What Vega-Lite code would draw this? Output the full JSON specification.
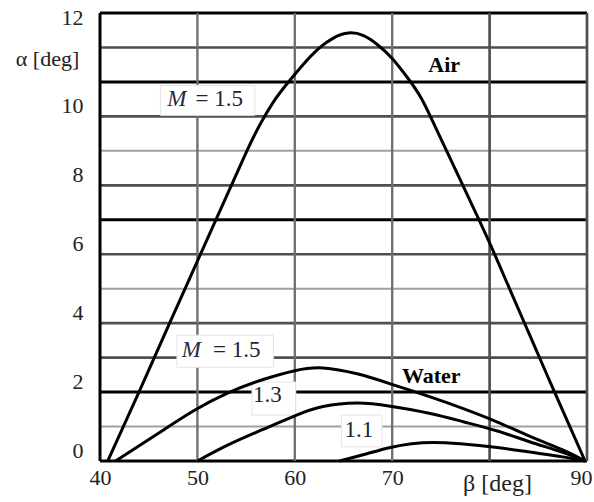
{
  "$schema": "https://vega.github.io/schema/vega-lite/v6.json",
  "width": 487,
  "height": 448,
  "autosize": {"type": "none"},
  "padding": {"left": 100, "top": 13, "right": 7, "bottom": 41},
  "background": "white",
  "config": {"view": {"stroke": null}, "font": "Liberation Serif"},
  "datasets": {
    "hlines": [
      {"alpha": 0, "kind": "black"}, {"alpha": 1, "kind": "light"}, {"alpha": 2, "kind": "black"},
      {"alpha": 3, "kind": "dark"}, {"alpha": 4, "kind": "dark"}, {"alpha": 5, "kind": "light"},
      {"alpha": 6, "kind": "dark"}, {"alpha": 7, "kind": "black"}, {"alpha": 8, "kind": "dark"},
      {"alpha": 9, "kind": "light"}, {"alpha": 10, "kind": "dark"}, {"alpha": 11, "kind": "black"},
      {"alpha": 12, "kind": "dark"}, {"alpha": 13, "kind": "black"}
    ],
    "vlines": [
      {"beta": 40, "kind": "black"}, {"beta": 50, "kind": "mid"}, {"beta": 60, "kind": "mid"},
      {"beta": 70, "kind": "mid"}, {"beta": 80, "kind": "dark"}, {"beta": 90, "kind": "dark"}
    ],
    "boxes": [
      {"b1": 46.2, "b2": 55.9, "a1": 10.03, "a2": 10.9},
      {"b1": 47.9, "b2": 57.8, "a1": 2.72, "a2": 3.65},
      {"b1": 55.6, "b2": 60.1, "a1": 1.33, "a2": 2.29},
      {"b1": 64.8, "b2": 68.95, "a1": 0.41, "a2": 1.33}
    ],
    "curves": [
      {"curve": "Air M=1.5", "beta": 40.8, "alpha": 0},
      {"curve": "Air M=1.5", "beta": 44.0, "alpha": 2.0},
      {"curve": "Air M=1.5", "beta": 48.0, "alpha": 4.54},
      {"curve": "Air M=1.5", "beta": 52.0, "alpha": 7.06},
      {"curve": "Air M=1.5", "beta": 55.0, "alpha": 8.95},
      {"curve": "Air M=1.5", "beta": 56.5, "alpha": 9.8},
      {"curve": "Air M=1.5", "beta": 58.0, "alpha": 10.5},
      {"curve": "Air M=1.5", "beta": 59.5, "alpha": 11.05},
      {"curve": "Air M=1.5", "beta": 61.0, "alpha": 11.55},
      {"curve": "Air M=1.5", "beta": 62.5, "alpha": 11.98},
      {"curve": "Air M=1.5", "beta": 64.0, "alpha": 12.28},
      {"curve": "Air M=1.5", "beta": 65.5, "alpha": 12.42},
      {"curve": "Air M=1.5", "beta": 67.0, "alpha": 12.35},
      {"curve": "Air M=1.5", "beta": 68.5, "alpha": 12.08},
      {"curve": "Air M=1.5", "beta": 70.0, "alpha": 11.68},
      {"curve": "Air M=1.5", "beta": 71.5, "alpha": 11.15},
      {"curve": "Air M=1.5", "beta": 73.0, "alpha": 10.52},
      {"curve": "Air M=1.5", "beta": 74.5, "alpha": 9.65},
      {"curve": "Air M=1.5", "beta": 76.0, "alpha": 8.75},
      {"curve": "Air M=1.5", "beta": 78.0, "alpha": 7.55},
      {"curve": "Air M=1.5", "beta": 80.0, "alpha": 6.33},
      {"curve": "Air M=1.5", "beta": 82.0, "alpha": 5.03},
      {"curve": "Air M=1.5", "beta": 84.0, "alpha": 3.73},
      {"curve": "Air M=1.5", "beta": 86.0, "alpha": 2.43},
      {"curve": "Air M=1.5", "beta": 88.0, "alpha": 1.15},
      {"curve": "Air M=1.5", "beta": 89.8, "alpha": 0},
      {"curve": "Water M=1.5", "beta": 41.6, "alpha": 0},
      {"curve": "Water M=1.5", "beta": 46.4, "alpha": 0.88},
      {"curve": "Water M=1.5", "beta": 49.75, "alpha": 1.48},
      {"curve": "Water M=1.5", "beta": 53.1, "alpha": 1.97},
      {"curve": "Water M=1.5", "beta": 56.6, "alpha": 2.35},
      {"curve": "Water M=1.5", "beta": 60.0, "alpha": 2.62},
      {"curve": "Water M=1.5", "beta": 62.9, "alpha": 2.7},
      {"curve": "Water M=1.5", "beta": 66.4, "alpha": 2.53},
      {"curve": "Water M=1.5", "beta": 69.8, "alpha": 2.24},
      {"curve": "Water M=1.5", "beta": 73.9, "alpha": 1.86},
      {"curve": "Water M=1.5", "beta": 77.3, "alpha": 1.52},
      {"curve": "Water M=1.5", "beta": 80.8, "alpha": 1.13},
      {"curve": "Water M=1.5", "beta": 84.1, "alpha": 0.72},
      {"curve": "Water M=1.5", "beta": 87.5, "alpha": 0.32},
      {"curve": "Water M=1.5", "beta": 89.8, "alpha": 0},
      {"curve": "Water M=1.3", "beta": 50.0, "alpha": 0},
      {"curve": "Water M=1.3", "beta": 53.1, "alpha": 0.46},
      {"curve": "Water M=1.3", "beta": 56.6, "alpha": 0.9},
      {"curve": "Water M=1.3", "beta": 60.0, "alpha": 1.31},
      {"curve": "Water M=1.3", "beta": 62.9, "alpha": 1.58},
      {"curve": "Water M=1.3", "beta": 66.4, "alpha": 1.68},
      {"curve": "Water M=1.3", "beta": 69.8, "alpha": 1.59},
      {"curve": "Water M=1.3", "beta": 73.9, "alpha": 1.38},
      {"curve": "Water M=1.3", "beta": 77.3, "alpha": 1.14},
      {"curve": "Water M=1.3", "beta": 80.8, "alpha": 0.87},
      {"curve": "Water M=1.3", "beta": 84.1, "alpha": 0.56},
      {"curve": "Water M=1.3", "beta": 87.5, "alpha": 0.25},
      {"curve": "Water M=1.3", "beta": 89.8, "alpha": 0},
      {"curve": "Water M=1.1", "beta": 64.6, "alpha": 0},
      {"curve": "Water M=1.1", "beta": 67.4, "alpha": 0.21},
      {"curve": "Water M=1.1", "beta": 69.8, "alpha": 0.39},
      {"curve": "Water M=1.1", "beta": 72.0, "alpha": 0.5},
      {"curve": "Water M=1.1", "beta": 74.2, "alpha": 0.54},
      {"curve": "Water M=1.1", "beta": 77.0, "alpha": 0.5},
      {"curve": "Water M=1.1", "beta": 80.8, "alpha": 0.39},
      {"curve": "Water M=1.1", "beta": 84.1, "alpha": 0.26},
      {"curve": "Water M=1.1", "beta": 87.5, "alpha": 0.12},
      {"curve": "Water M=1.1", "beta": 89.8, "alpha": 0}
    ],
    "italicLabels": [
      {"beta": 46.9, "alpha": 10.29, "text": "M"},
      {"beta": 48.4, "alpha": 3.01, "text": "M"}
    ],
    "plainLabels": [
      {"beta": 49.8, "alpha": 10.29, "text": "= 1.5"},
      {"beta": 51.6, "alpha": 3.01, "text": "= 1.5"},
      {"beta": 55.7, "alpha": 1.71, "text": "1.3"},
      {"beta": 65.1, "alpha": 0.7, "text": "1.1"}
    ],
    "boldLabels": [
      {"beta": 73.7, "alpha": 11.28, "text": "Air"},
      {"beta": 71.0, "alpha": 2.26, "text": "Water"}
    ]
  },
  "layer": [
    {
      "data": {"name": "hlines"},
      "mark": {"type": "rule"},
      "encoding": {
        "y": {
          "field": "alpha", "type": "quantitative",
          "scale": {"domain": [0, 13], "nice": false, "zero": false},
          "axis": {
            "values": [0, 2, 4, 6, 8, 10, 12],
            "grid": false, "domain": false, "ticks": false, "tickSize": 0,
            "labelFont": "Liberation Serif", "labelFontSize": 22, "labelColor": "#222222",
            "labelPadding": 17,
            "labelOffset": {"condition": {"test": "datum.value == 12", "value": -30}, "value": -11},
            "title": "α [deg]", "titleAngle": 0, "titleX": -53, "titleY": 45,
            "titleAlign": "center", "titleBaseline": "middle",
            "titleFont": "Liberation Serif", "titleFontSize": 22, "titleFontWeight": "normal", "titleColor": "#222222"
          }
        },
        "color": {
          "field": "kind", "type": "nominal", "legend": null,
          "scale": {"domain": ["black", "dark", "mid", "light"], "range": ["#000000", "#4f4f4f", "#6e6e6e", "#a0a0a0"]}
        },
        "strokeWidth": {
          "field": "kind", "type": "nominal", "legend": null,
          "scale": {"domain": ["black", "dark", "mid", "light"], "range": [3, 2, 2, 3]}
        }
      }
    },
    {
      "data": {"name": "vlines"},
      "mark": {"type": "rule"},
      "encoding": {
        "x": {
          "field": "beta", "type": "quantitative",
          "scale": {"domain": [40, 90], "nice": false, "zero": false},
          "axis": {
            "values": [40, 50, 60, 70, 80, 90],
            "labelExpr": "datum.value == 80 ? '' : datum.label",
            "grid": false, "domain": false, "ticks": false, "tickSize": 0,
            "labelFlush": false, "labelOverlap": false,
            "labelOffset": {"condition": {"test": "datum.value == 90", "value": -6}, "value": 0},
            "labelFont": "Liberation Serif", "labelFontSize": 22, "labelColor": "#222222",
            "labelPadding": 6,
            "title": "β [deg]", "titleX": 397, "titleY": 22, "titleAlign": "center", "titleBaseline": "middle",
            "titleFont": "Liberation Serif", "titleFontSize": 24, "titleFontWeight": "normal", "titleColor": "#222222"
          }
        },
        "color": {
          "field": "kind", "type": "nominal", "legend": null,
          "scale": {"domain": ["black", "dark", "mid", "light"], "range": ["#000000", "#4f4f4f", "#6e6e6e", "#a0a0a0"]}
        },
        "strokeWidth": {
          "field": "kind", "type": "nominal", "legend": null,
          "scale": {"domain": ["black", "dark", "mid", "light"], "range": [3, 2, 2, 3]}
        }
      }
    },
    {
      "data": {"name": "boxes"},
      "mark": {"type": "rect", "fill": "white", "stroke": "#e4e4e4", "strokeWidth": 1},
      "encoding": {
        "x": {"field": "b1", "type": "quantitative"},
        "x2": {"field": "b2"},
        "y": {"field": "a1", "type": "quantitative"},
        "y2": {"field": "a2"}
      }
    },
    {
      "data": {"name": "curves"},
      "mark": {"type": "line", "color": "black", "strokeWidth": 3, "interpolate": "natural"},
      "encoding": {
        "x": {"field": "beta", "type": "quantitative"},
        "y": {"field": "alpha", "type": "quantitative"},
        "detail": {"field": "curve", "type": "nominal"}
      }
    },
    {
      "data": {"name": "italicLabels"},
      "mark": {"type": "text", "align": "left", "baseline": "alphabetic", "font": "Liberation Serif", "fontSize": 23, "fontStyle": "italic", "color": "#2a2a44"},
      "encoding": {
        "x": {"field": "beta", "type": "quantitative"},
        "y": {"field": "alpha", "type": "quantitative"},
        "text": {"field": "text"}
      }
    },
    {
      "data": {"name": "plainLabels"},
      "mark": {"type": "text", "align": "left", "baseline": "alphabetic", "font": "Liberation Serif", "fontSize": 23, "color": "#222233"},
      "encoding": {
        "x": {"field": "beta", "type": "quantitative"},
        "y": {"field": "alpha", "type": "quantitative"},
        "text": {"field": "text"}
      }
    },
    {
      "data": {"name": "boldLabels"},
      "mark": {"type": "text", "align": "left", "baseline": "alphabetic", "font": "Liberation Serif", "fontSize": 22, "fontWeight": "bold", "color": "black"},
      "encoding": {
        "x": {"field": "beta", "type": "quantitative"},
        "y": {"field": "alpha", "type": "quantitative"},
        "text": {"field": "text"}
      }
    }
  ]
}
